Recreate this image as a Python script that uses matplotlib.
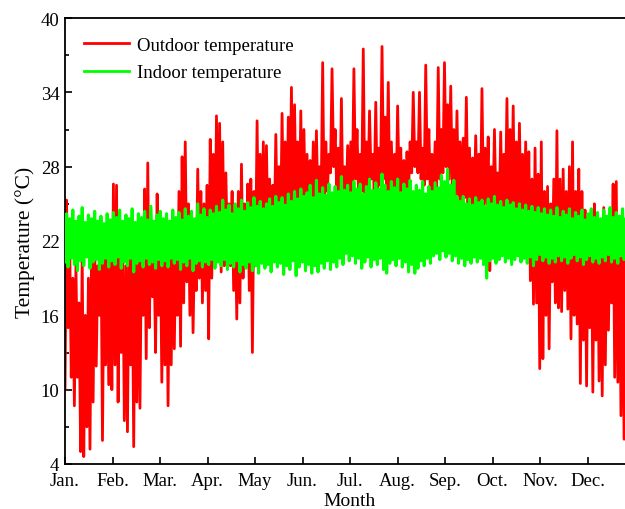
import matplotlib
matplotlib.use("Agg")
import matplotlib.pyplot as plt
import numpy as np

plt.rcParams["font.family"] = "Liberation Serif"

month_labels = ["Jan.", "Feb.", "Mar.", "Apr.", "May", "Jun.",
                "Jul.", "Aug.", "Sep.", "Oct.", "Nov.", "Dec."]

# two-day lows / highs (deg C), one value per 2 days
outdoor_high = [
    25.3, 22, 19, 20, 17, 21, 16, 19, 21, 22, 20, 23, 21, 22, 21.5, 26.6,
    26.5, 22, 21, 20, 22, 21, 22.5, 23, 22, 26.2, 28.3, 23, 21, 25.8, 23, 22,
    22, 23, 22, 22.5, 26, 28.8, 30.0, 25, 24, 22, 27.8, 26, 25, 26.5, 30.2, 29,
    32.1, 31.5, 30, 27.5, 25, 26, 24.5, 26, 28.2, 25, 26.6, 27, 26, 31.7, 29, 30,
    29.7, 27, 26.5, 30.6, 28, 32.3, 30, 32, 34.4, 33, 30, 32.5, 31, 29, 28.5, 30,
    30.9, 28, 36.4, 30, 29, 35.9, 31, 29.5, 33.5, 28, 29.7, 30, 35.9, 31, 29, 37.5,
    30, 32.5, 29, 33.2, 29.5, 37.7, 32, 34.8, 30, 29, 32.9, 29.5, 28.5, 29.2, 30, 34,
    30, 34, 29.5, 36.2, 31, 29, 30, 36.0, 31, 36.4, 33, 34.5, 31, 32.5, 30, 30.3,
    33.6, 29.5, 28.7, 30.5, 29, 34.3, 29.5, 30.4, 28, 31, 27.5, 30.8, 29, 33.5, 31, 32.9,
    30, 31.5, 29, 30, 29.2, 27, 29.5, 27.4, 30, 26, 26.4, 25, 27, 30.9, 27, 27.8,
    26, 28, 30, 26, 27.8, 26, 24.5, 24, 24.4, 25, 24, 23.5, 24.7, 23, 24, 26.6,
    26.8, 24, 24, 23.5, 22, 21, 20,
]
outdoor_low = [
    10, 15, 11, 8.7, 11, 5, 4.6, 7, 5.2, 9, 11.9, 16, 5.9, 12, 10.4, 10,
    12, 9, 13, 7.5, 6.6, 12, 5.4, 9, 8.5, 16, 12.5, 15, 17.5, 13, 16, 10.6,
    12, 8.7, 12, 13.3, 16, 13.5, 17, 18.7, 16, 14.6, 18, 19, 17, 18, 14.1, 19,
    20, 21, 19.5, 20, 21, 20, 18, 15.7, 17, 19, 20, 18, 13.0, 20, 21, 22,
    21.5, 22, 21, 22.5, 23, 22, 23, 22.5, 24, 23, 24, 23, 22.5, 23.5, 22, 24,
    23, 24.5, 25, 24, 26, 27.5, 28, 26, 25, 24, 24.5, 25, 26, 27, 25.5, 26,
    25, 26, 27, 26, 25, 26.5, 27, 26, 25, 24.5, 25, 26, 24.5, 25, 26, 27.5,
    28, 27.5, 27, 26.5, 27, 25.5, 25, 26, 27, 27.5, 28, 27, 26.5, 25.5, 24.8, 25,
    25.5, 24.5, 25, 24.5, 25, 24, 24.5, 25, 19.6, 24, 24.5, 23.5, 24, 24.5, 23.5, 24,
    23, 24, 23.5, 23, 22, 18.8, 16.9, 17, 11.7, 12.5, 16, 13.3, 18.7, 17, 16.6, 16.3,
    18, 16.5, 14.1, 16, 15.3, 10.5, 14, 10.3, 15, 9.8, 14, 10.7, 9.5, 12, 14.8, 17,
    11, 10.6, 7.9, 6.0, 5.6, 7, 8,
]
indoor_high = [
    24.2, 23.8, 24.5, 23.6, 24.0, 24.7, 23.5, 24.1, 23.8, 24.4, 23.6, 24.0, 23.4, 24.2, 23.7, 24.3,
    23.9, 24.5, 23.6, 24.1, 23.8, 24.6, 23.5, 24.2, 23.9, 24.4, 23.7, 24.8, 23.6, 24.1, 24.4, 23.8,
    24.2, 23.6, 24.5, 23.9, 24.3, 23.7, 24.6, 24.0, 24.4, 23.8, 25.0, 24.1, 24.6, 23.9, 24.5, 24.2,
    24.8, 24.3, 25.3, 24.5, 24.9, 24.2, 25.0, 24.6, 25.3, 24.4, 25.1, 24.7, 25.5, 24.8, 25.2, 24.6,
    25.0, 25.4, 24.8, 25.6, 25.1, 25.5, 24.9, 25.8, 25.2, 26.0, 25.4, 26.2, 25.6, 25.9, 26.5, 25.5,
    26.9, 25.8, 26.3, 25.7, 26.6, 25.9, 26.4, 26.0, 27.2, 26.1, 26.5, 25.9, 26.8, 26.2, 26.6, 25.8,
    26.4, 27.0, 26.1, 26.7, 26.2, 27.4, 26.5, 26.0, 26.8, 26.3, 27.0, 25.9, 26.6, 26.2, 26.9, 26.0,
    26.5, 26.1, 26.8, 25.8, 26.4, 26.0, 26.7, 26.3, 27.3, 26.8, 27.8, 26.5, 26.9, 25.6, 25.2, 25.6,
    25.0, 25.4, 24.9, 25.5, 25.1, 25.3, 24.8, 25.4, 25.0, 25.6, 24.9, 25.2, 24.7, 25.3, 24.9, 25.1,
    24.6, 25.0, 24.5, 24.9, 24.4, 24.8, 24.3, 24.7, 24.2, 24.6, 24.1, 24.5, 24.0, 24.7, 23.9, 24.4,
    24.1, 24.6, 23.8, 24.3, 24.0, 24.5, 23.7, 24.2, 24.6, 23.9, 24.3, 23.8, 24.5, 24.0, 24.7, 23.9,
    24.3, 24.0, 24.6, 23.8, 24.2, 24.0, 24.4,
]
indoor_low = [
    20.3, 19.9, 20.6, 20.1, 19.6, 20.4, 20.0, 20.7, 19.8, 20.3, 20.5, 19.7, 20.2, 20.6, 19.9, 20.4,
    20.1, 20.7, 19.8, 20.3, 20.0, 20.6, 19.5, 20.2, 20.4, 19.9, 20.6, 20.1, 20.3, 19.8, 20.5, 20.0,
    20.4, 19.9, 20.6, 20.2, 20.5, 19.7, 20.3, 20.0, 20.6, 19.6, 20.2, 20.4, 19.9, 20.3, 20.1, 20.5,
    19.8, 20.3, 20.0, 20.5, 19.7, 20.2, 19.9, 20.4, 19.5, 20.1, 19.8, 20.3, 19.6, 20.0, 19.4, 20.2,
    19.8, 20.1, 19.5, 20.3, 19.9, 20.2, 19.3, 20.0, 19.7, 20.4, 19.2, 19.9, 20.3, 19.6, 20.1, 19.4,
    20.0, 19.5, 20.2, 19.8, 20.4, 19.7, 20.3, 19.9, 20.6, 20.1, 21.0, 20.4, 20.8, 20.2, 20.6, 19.8,
    20.3, 20.7, 19.9, 20.5, 20.1, 20.6, 19.7, 19.4, 20.2, 20.5, 20.0, 20.6, 19.9, 20.3, 19.5, 20.1,
    19.4, 19.8, 20.4, 20.0, 20.6, 20.2, 20.8, 21.0, 20.5, 21.2, 20.7, 21.0, 20.4, 20.8, 20.2, 20.6,
    20.0, 20.5, 20.2, 20.7, 20.3, 20.6, 20.1, 19.0, 20.4, 20.6, 20.2, 20.5, 20.8, 20.3, 20.6, 20.1,
    20.5, 20.8, 20.3, 20.6, 20.2, 20.7, 20.0, 20.5, 20.9, 20.4, 20.7, 20.2, 20.6, 20.3, 20.8, 20.4,
    20.7, 20.2, 20.6, 20.9, 20.4, 20.7, 20.1, 20.5, 20.8, 20.3, 20.6, 20.2, 20.7, 20.4, 20.9, 20.3,
    20.6, 20.2, 20.8, 20.5, 20.3, 20.6, 20.4,
]


def zigzag(low, high):
    # low at start of each 2-day step, high one day later
    y = np.empty(2 * len(low))
    y[0::2] = low
    y[1::2] = high
    return np.arange(len(y)), y


fig = plt.figure(figsize=(6.25, 5.10), dpi=100)
ax = fig.add_axes([65 / 625, 45 / 510, 570 / 625, 446 / 510])

x_out, y_out = zigzag(outdoor_low, outdoor_high)
x_in, y_in = zigzag(indoor_low, indoor_high)
ax.plot(x_out, y_out, color="#ff0000", lw=2.0, label="Outdoor temperature", zorder=2)
ax.plot(x_in, y_in, color="#00ff00", lw=2.2, label="Indoor temperature", zorder=3)

ax.set_xlim(0, 365)
ax.set_ylim(4, 40)
ax.set_xticks(np.arange(12) * 365 / 12)
ax.set_xticklabels(month_labels)
ax.set_yticks(np.arange(4, 41, 6))
ax.set_yticks(np.arange(7, 40, 6), minor=True)
ax.tick_params(axis="both", which="both", direction="in", labelsize=13.5, width=1.2)
ax.tick_params(axis="both", which="major", length=5)
ax.tick_params(axis="y", which="major", pad=4)
ax.tick_params(axis="x", which="major", pad=6)
ax.tick_params(axis="y", which="minor", length=3)
ax.tick_params(axis="x", which="minor", length=0)
for sp in ax.spines.values():
    sp.set_linewidth(1.3)

ax.set_xlabel("Month", fontsize=14, labelpad=2)
ax.set_ylabel("Temperature (°C)", fontsize=15.5, labelpad=4)

leg = ax.legend(loc="upper left", bbox_to_anchor=(0.0, 1.0), frameon=False,
                fontsize=13.5, handlelength=2.4, handletextpad=0.45,
                labelspacing=0.55, borderaxespad=0.6)
for line in leg.get_lines():
    line.set_linewidth(2)

fig.savefig("out.png", dpi=100)
